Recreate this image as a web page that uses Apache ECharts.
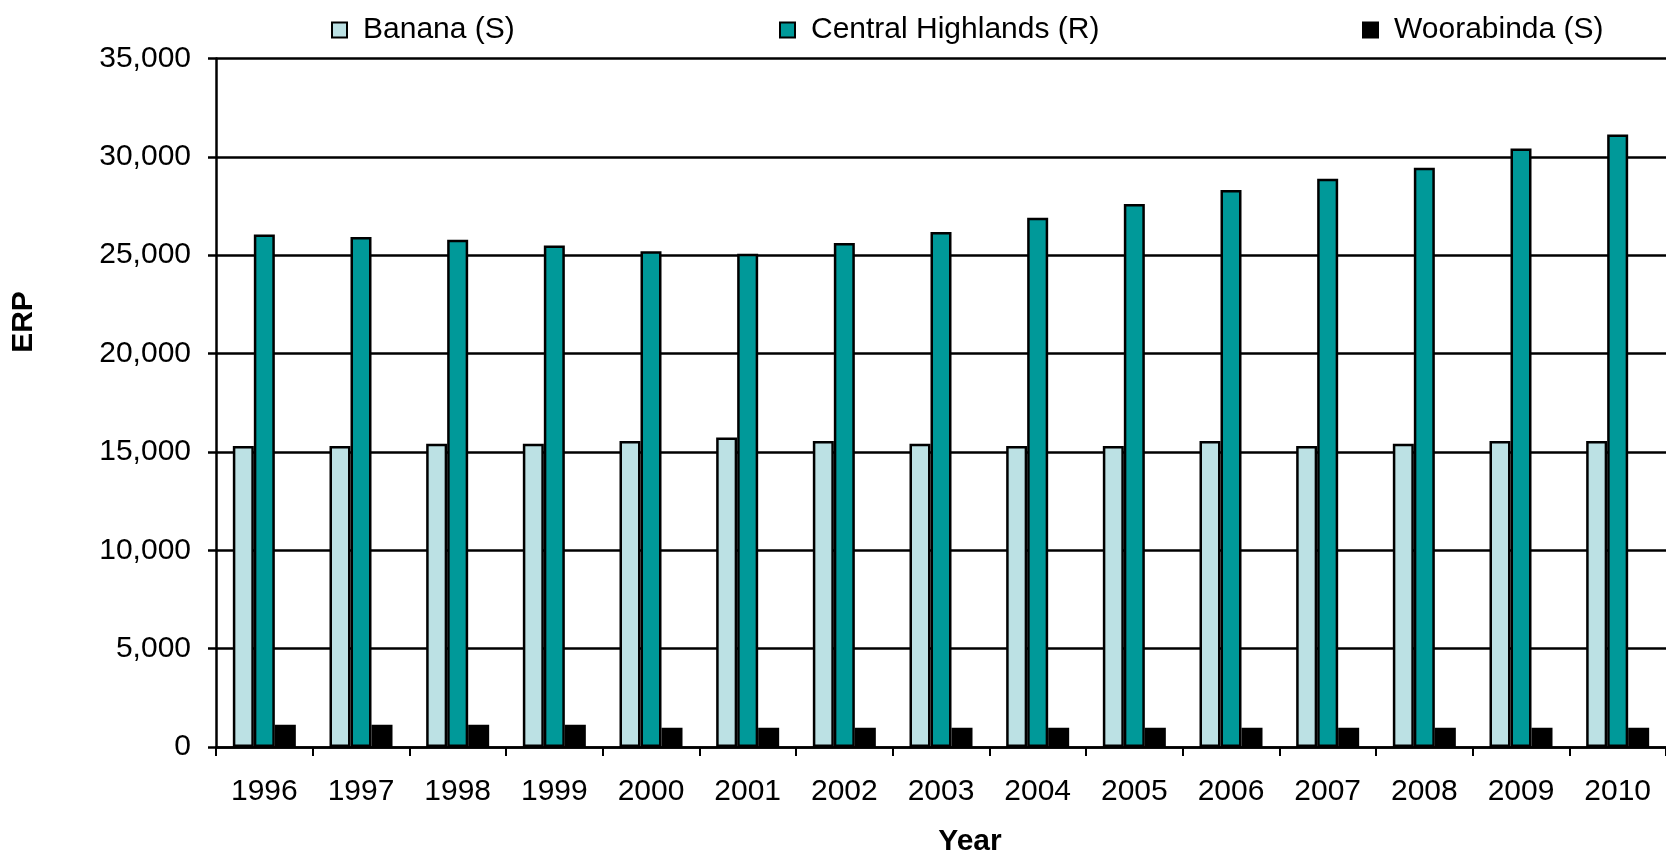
<!DOCTYPE html>
<html>
<head>
<meta charset="utf-8">
<script src="https://cdn.jsdelivr.net/npm/echarts@6/dist/echarts.min.js"></script>
<style>
html,body{margin:0;padding:0;background:#fff;}
#chart{width:1666px;height:855px;}
</style>
</head>
<body>
<div id="chart"></div>
<script>
const categories = ['1996','1997','1998','1999','2000','2001','2002','2003','2004','2005','2006','2007','2008','2009','2010'];
const banana = [15300,15300,15420,15420,15560,15730,15560,15420,15300,15300,15560,15300,15420,15560,15560];
const centralHighlands = [26050,25930,25780,25500,25200,25080,25620,26180,26910,27600,28320,28890,29450,30420,31140];
const woorabinda = [1130,1130,1130,1130,980,980,980,980,980,980,980,980,980,980,980];
const seriesNames = ['Banana (S)','Central Highlands (R)','Woorabinda (S)'];
const colors = ['#BCE1E4','#009999','#000000'];
const yTicks = {min:0, max:35000, interval:5000};

const FONT = '"Liberation Sans", Arial, sans-serif';
const chart = echarts.init(document.getElementById('chart'), null, {renderer:'canvas'});

function legendAt(idx, left){
  return {
    data:[{name:seriesNames[idx], itemStyle:{color:colors[idx], borderColor:'#000', borderWidth:2}}],
    left:left, top:15, padding:0,
    icon:'rect', itemWidth:15, itemHeight:15,
    selectedMode:false,
    textStyle:{fontFamily:FONT, fontSize:30, color:'#000', padding:[0,0,0,11]}
  };
}

const option = {
  animation:false,
  backgroundColor:'#fff',
  legend:[legendAt(0,331), legendAt(1,779), legendAt(2,1362)],
  grid:{left:216, top:58.5, bottom:108, right:-12, containLabel:false},
  xAxis:{
    type:'category',
    data:categories,
    boundaryGap:true,
    axisLine:{show:true, lineStyle:{color:'#000', width:2.5}},
    axisTick:{show:true, length:9, lineStyle:{color:'#000', width:2}},
    axisLabel:{fontFamily:FONT, fontSize:30, color:'#000', margin:30, interval:0},
    splitLine:{show:false}
  },
  yAxis:{
    type:'value',
    min:yTicks.min, max:yTicks.max, interval:yTicks.interval,
    axisLine:{show:true, lineStyle:{color:'#000', width:2.5}},
    axisTick:{show:true, length:8, lineStyle:{color:'#000', width:2.5}},
    axisLabel:{fontFamily:FONT, fontSize:30, color:'#000', margin:25,
      formatter:v=>v.toString().replace(/\B(?=(\d{3})+(?!\d))/g, ',')},
    splitLine:{show:true, lineStyle:{color:'#000', width:2.5}}
  },
  graphic:[
    {type:'text', x:970, y:842, style:{text:'Year', font:'bold 30px "Liberation Sans", Arial, sans-serif', fill:'#000', textAlign:'center', textVerticalAlign:'middle'}},
    {type:'text', x:24, y:322, rotation:Math.PI/2, style:{text:'ERP', font:'bold 30px "Liberation Sans", Arial, sans-serif', fill:'#000', textAlign:'center', textVerticalAlign:'middle'}}
  ],
  series:[
    {name:seriesNames[0], type:'bar', data:banana, barWidth:21, barGap:'0%',
      itemStyle:{color:colors[0], borderColor:'#000', borderWidth:2.5}},
    {name:seriesNames[1], type:'bar', data:centralHighlands, barWidth:21, barGap:'0%',
      itemStyle:{color:colors[1], borderColor:'#000', borderWidth:2.5}},
    {name:seriesNames[2], type:'bar', data:woorabinda, barWidth:21, barGap:'0%',
      itemStyle:{color:colors[2], borderColor:'#000', borderWidth:2.5}}
  ]
};
chart.setOption(option);
</script>
</body>
</html>
